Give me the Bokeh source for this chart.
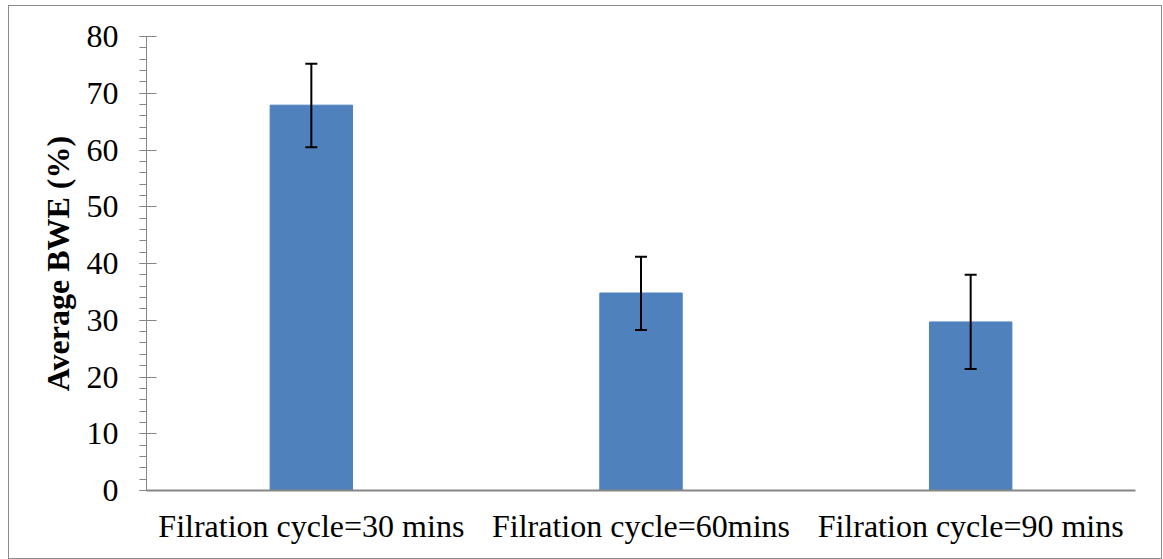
from bokeh.plotting import figure
from bokeh.models import ColumnDataSource, FactorRange, Range1d, SingleIntervalTicker, Whisker, TeeHead
from bokeh.embed import file_html
from bokeh.resources import INLINE

categories = ["Filration cycle=30 mins", "Filration cycle=60mins", "Filration cycle=90 mins"]
values = [67.9, 34.8, 29.7]
err_upper = [75.2, 41.2, 38.0]
err_lower = [60.5, 28.3, 21.4]

FONT = "'Liberation Serif', 'Times New Roman', serif"

src = ColumnDataSource(dict(cat=categories, val=values, upper=err_upper, lower=err_lower))

p = figure(width=1154, height=554, output_backend="svg", toolbar_location=None,
           x_range=FactorRange(*categories, range_padding=0), y_range=Range1d(0, 80),
           min_border_left=137, min_border_right=28, min_border_top=30, min_border_bottom=70)
p.styles = {"border": "1px solid #8c8c8c", "margin-left": "8px", "margin-top": "5px"}
p.outline_line_color = None
p.xgrid.grid_line_color = None
p.ygrid.grid_line_color = None

p.vbar(x="cat", top="val", width=0.25, source=src, fill_color="#4F81BD", line_color="#4F81BD")

w = Whisker(base="cat", upper="upper", lower="lower", source=src, line_color="black", line_width=2,
            level="overlay",
            upper_head=TeeHead(size=12, line_color="black", line_width=2),
            lower_head=TeeHead(size=12, line_color="black", line_width=2))
p.add_layout(w)

p.yaxis.ticker = SingleIntervalTicker(interval=10, num_minor_ticks=5)
p.yaxis.axis_line_color = "#868686"
p.yaxis.major_tick_line_color = "#868686"
p.yaxis.minor_tick_line_color = "#868686"
p.yaxis.major_tick_out = 7
p.yaxis.major_tick_in = 10
p.yaxis.minor_tick_out = 7
p.yaxis.minor_tick_in = 0
p.yaxis.major_label_standoff = 21
p.yaxis.major_label_text_font = FONT
p.yaxis.major_label_text_font_size = "32px"
p.yaxis.major_label_text_color = "black"
p.yaxis.axis_label = "Average BWE (%)"
p.yaxis.axis_label_text_font = FONT
p.yaxis.axis_label_text_font_style = "bold"
p.yaxis.axis_label_text_font_size = "32px"
p.yaxis.axis_label_text_color = "black"
p.yaxis.axis_label_standoff = 8

p.xaxis.axis_line_color = "#868686"
p.xaxis.axis_line_width = 2
p.xaxis.major_tick_line_color = None
p.xaxis.minor_tick_line_color = None
p.xaxis.major_label_standoff = 11
p.xaxis.major_label_text_font = FONT
p.xaxis.major_label_text_font_size = "32px"
p.xaxis.major_label_text_color = "black"

open("out.html", "w").write(file_html(p, INLINE))
